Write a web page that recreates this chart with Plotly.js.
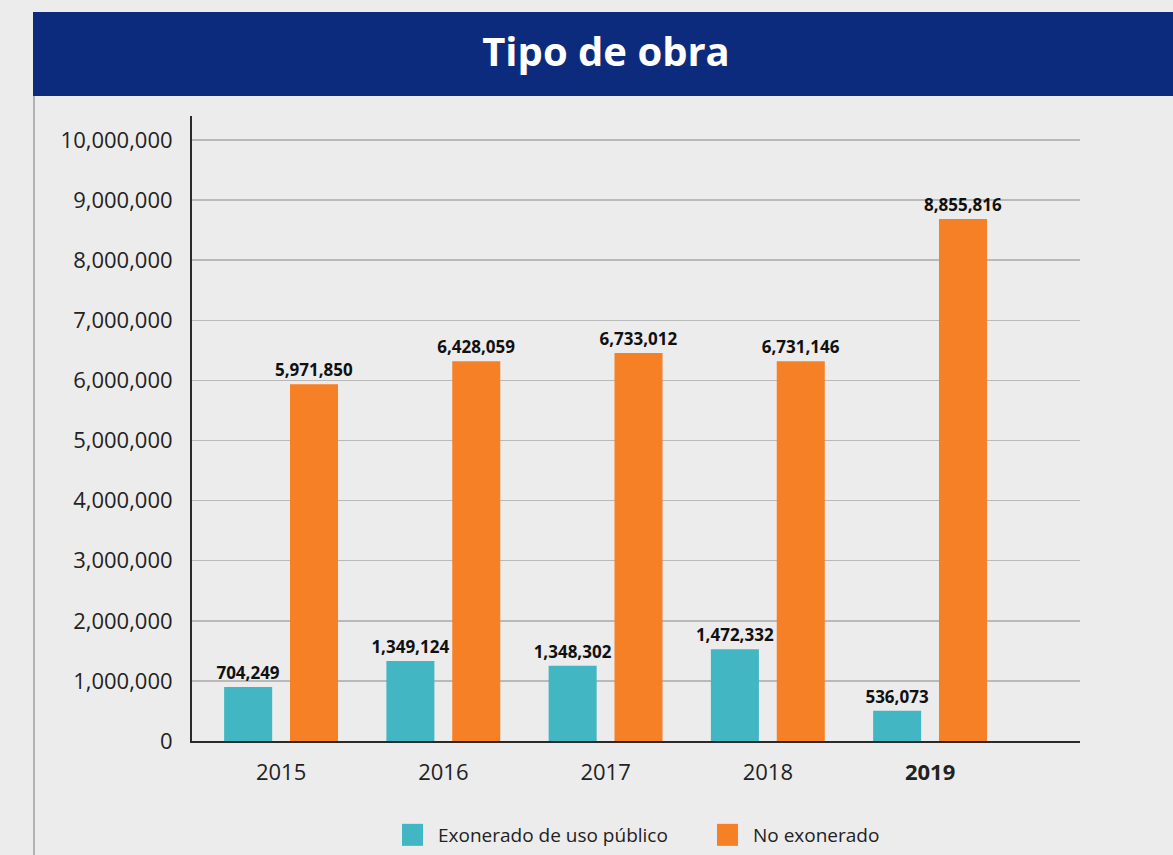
<!DOCTYPE html>
<html><head><meta charset="utf-8">
<script src="https://cdn.plot.ly/plotly-3.0.1.min.js"></script>
<style>html,body{margin:0;padding:0;background:#ececec;} #chart{width:1173px;height:855px;}</style>
</head><body><div id="chart"></div>
<script>
// ---- data ----
const years = ['2015', '2016', '2017', '2018', '2019'];
const yearLabels = ['2015', '2016', '2017', '2018', '<b>2019</b>'];
// bar heights as drawn in the reference
const exoneradoHeights = [898000, 1331000, 1253000, 1526000, 504000];
const noExoneradoHeights = [5935000, 6318000, 6456000, 6318000, 8686000];
// printed value labels
const exoneradoLabels = ['704,249', '1,349,124', '1,348,302', '1,472,332', '536,073'];
const noExoneradoLabels = ['5,971,850', '6,428,059', '6,733,012', '6,731,146', '8,855,816'];
const yTicks = [0, 1000000, 2000000, 3000000, 4000000, 5000000, 6000000, 7000000, 8000000, 9000000, 10000000];
const seriesNames = ['Exonerado de uso público', 'No exonerado'];

// ---- layout helpers ----
const W = 1173, H = 855;
const plotL = 192, plotR = 1080, plotT = 116, plotB = 741;
const px = p => (p - plotL) / (plotR - plotL);
const py = p => (plotB - p) / (plotB - plotT);
const FONT = 'Open Sans, Noto Sans, sans-serif';

const labelFont = {family: FONT, size: 17, color: '#111', weight: 'bold'};

const traces = [
  {
    type: 'bar', name: seriesNames[0], x: years, y: exoneradoHeights,
    text: exoneradoLabels, textposition: 'outside', textfont: labelFont,
    constraintext: 'none', cliponaxis: false,
    width: 0.296, offset: -0.351,
    marker: {color: '#42b7c3', line: {width: 0}}, hoverinfo: 'skip'
  },
  {
    type: 'bar', name: seriesNames[1], x: years, y: noExoneradoHeights,
    text: noExoneradoLabels, textposition: 'outside', textfont: labelFont,
    constraintext: 'none', cliponaxis: false,
    width: 0.296, offset: 0.055,
    marker: {color: '#f58025', line: {width: 0}}, hoverinfo: 'skip'
  }
];

const layout = {
  width: W, height: H,
  margin: {l: plotL, r: W - plotR, t: plotT, b: H - plotB, pad: 0},
  paper_bgcolor: '#ececec', plot_bgcolor: 'rgba(0,0,0,0)',
  barmode: 'overlay',
  showlegend: true,
  title: {
    text: '<b>Tipo de obra</b>',
    font: {family: FONT, size: 40, color: '#ffffff'},
    x: 606 / W, xanchor: 'center', xref: 'container',
    y: 1 - 52 / H, yanchor: 'middle', yref: 'container'
  },
  xaxis: {
    type: 'category', range: [-0.549, 4.924],
    tickvals: years, ticktext: yearLabels,
    showline: true, linecolor: '#2a2a2a', linewidth: 2,
    showgrid: false, zeroline: false, ticks: '',
    tickfont: {family: FONT, size: 22, color: '#222'},
    ticklabelstandoff: 11, fixedrange: true
  },
  yaxis: {
    range: [0, 10400000], tickvals: yTicks, tickformat: ',d',
    showline: true, linecolor: '#2a2a2a', linewidth: 2,
    showgrid: true, gridcolor: '#b9b9b9', gridwidth: 1.5,
    zeroline: false, ticks: '',
    tickfont: {family: FONT, size: 22, color: '#222'},
    ticklabelstandoff: 13, fixedrange: true
  },
  legend: {
    orientation: 'h', xref: 'container', yref: 'container',
    x: 398 / W, xanchor: 'left', y: 1 - 835 / H, yanchor: 'middle',
    font: {family: FONT, size: 19, color: '#222'},
    bgcolor: 'rgba(0,0,0,0)', borderwidth: 0,
    entrywidth: 270, traceorder: 'normal'
  },
  shapes: [
    {type: 'rect', xref: 'paper', yref: 'paper', x0: px(33), x1: px(1180), y0: py(96), y1: py(12),
     fillcolor: '#0d2b7c', line: {width: 0}, layer: 'below'},
    {type: 'line', xref: 'paper', yref: 'paper', x0: px(34), x1: px(34), y0: py(96), y1: py(860),
     line: {color: '#b3b3b3', width: 2}, layer: 'below'}
  ]
};

Plotly.newPlot('chart', traces, layout, {displayModeBar: false, staticPlot: true}).then(() => {
  document.querySelectorAll('#chart .legend .legendpoints path').forEach(p => {
    p.removeAttribute('transform');
    p.setAttribute('d', 'M25,11H4V-11H25Z');
  });
});
</script>
</body></html>
